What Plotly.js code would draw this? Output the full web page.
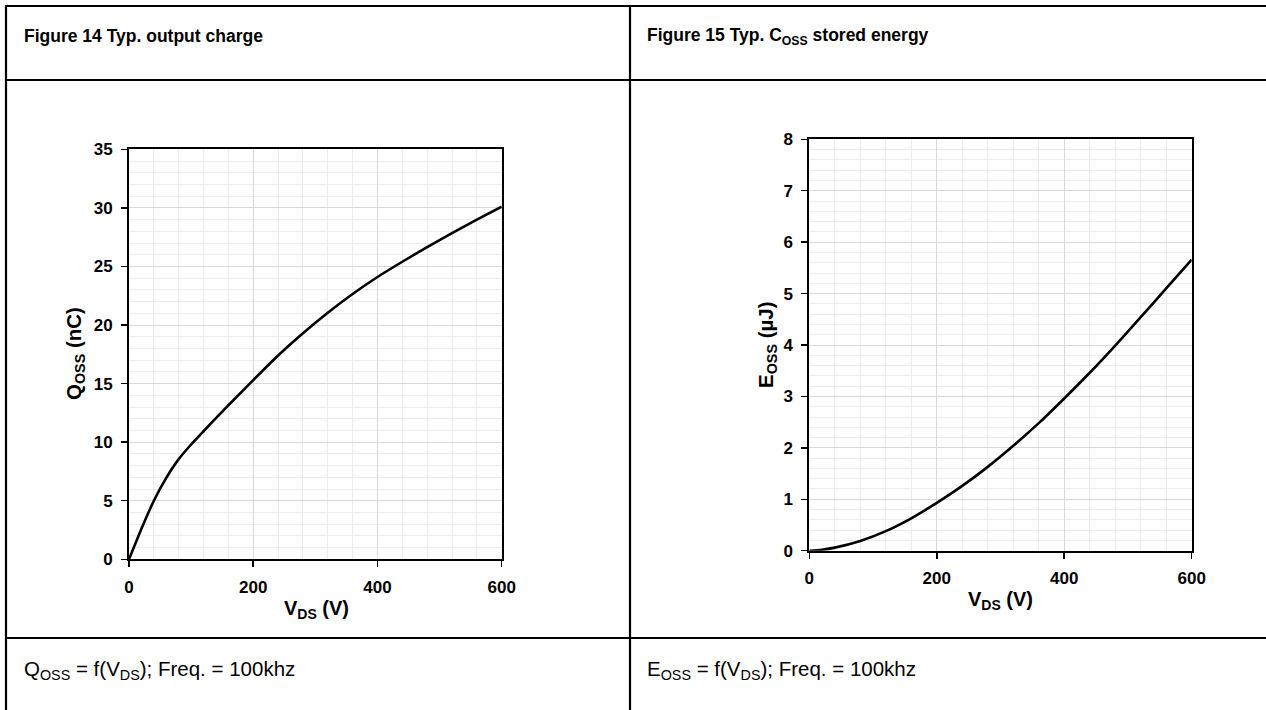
<!DOCTYPE html>
<html>
<head>
<meta charset="utf-8">
<script src="https://cdn.plot.ly/plotly-3.0.1.min.js"></script>
<style>
  html, body { margin: 0; padding: 0; background: #ffffff; }
  #chart { width: 1266px; height: 710px; }
</style>
</head>
<body>
<div id="chart"></div>
<script>
// ---- Data ----
const vdsQ = [0, 20, 40, 60, 80, 100, 120, 140, 160, 200, 240, 280, 320, 360, 400, 440, 480, 520, 560, 600];
const qoss = [0, 2.6, 5.0, 6.95, 8.55, 9.8, 10.93, 12.05, 13.15, 15.3, 17.4, 19.3, 21.05, 22.65, 24.1, 25.4, 26.65, 27.85, 29.0, 30.1];

const vdsE = [0, 20, 40, 80, 120, 160, 200, 240, 280, 320, 360, 400, 440, 480, 520, 560, 600];
const eoss = [0, 0.02, 0.06, 0.19, 0.38, 0.63, 0.93, 1.26, 1.63, 2.04, 2.48, 2.96, 3.46, 3.99, 4.54, 5.10, 5.66];

const xTickVals = [0, 200, 400, 600];
const qTickVals = [0, 5, 10, 15, 20, 25, 30, 35];
const eTickVals = [0, 1, 2, 3, 4, 5, 6, 7, 8];

const headerLeft = "<b>Figure 14 Typ. output charge</b>";
const headerRight = "<b>Figure 15 Typ. C<sub>OSS</sub> stored energy</b>";
const footerLeft = "Q<sub>OSS</sub> = f(V<sub>DS</sub>); Freq. = 100khz";
const footerRight = "E<sub>OSS</sub> = f(V<sub>DS</sub>); Freq. = 100khz";
const xTitle = "<b>V<sub>DS</sub> (V)</b>";
const qTitle = "<b>Q<sub>OSS</sub> (nC)</b>";
const eTitle = "<b>E<sub>OSS</sub> (µJ)</b>";

// ---- Layout helpers (pixel -> paper) ----
const W = 1266, H = 710;
const px = x => x / W;
const py = y => 1 - y / H;
const FONT = "Liberation Sans, Arial, Helvetica, sans-serif";

function axisBase(extra) {
  return Object.assign({
    showline: true, mirror: true, linecolor: "#000000", linewidth: 2,
    ticks: "outside", ticklen: 6, tickwidth: 1.5, tickcolor: "#000000",
    showgrid: true, gridcolor: "#d9d9d9", gridwidth: 1,
    zeroline: false, fixedrange: true,
    tickfont: { family: FONT, size: 17, color: "#000000", weight: "bold" },
    ticklabelstandoff: 5
  }, extra);
}

const traces = [
  { x: vdsQ, y: qoss, xaxis: "x", yaxis: "y", type: "scatter", mode: "lines",
    line: { color: "#000000", width: 2.6, shape: "spline", smoothing: 0.4 },
    hoverinfo: "skip", showlegend: false },
  { x: vdsE, y: eoss, xaxis: "x2", yaxis: "y2", type: "scatter", mode: "lines",
    line: { color: "#000000", width: 2.6, shape: "spline", smoothing: 0.7 },
    hoverinfo: "skip", showlegend: false }
];

const lineStyle = { color: "#000000", width: 2.2 };
const shapes = [
  { type: "line", xref: "paper", yref: "paper", x0: px(6), x1: px(1266), y0: py(6), y1: py(6), line: lineStyle },
  { type: "line", xref: "paper", yref: "paper", x0: px(6), x1: px(1266), y0: py(80), y1: py(80), line: lineStyle },
  { type: "line", xref: "paper", yref: "paper", x0: px(6), x1: px(1266), y0: py(638), y1: py(638), line: lineStyle },
  { type: "line", xref: "paper", yref: "paper", x0: px(6), x1: px(6), y0: py(5), y1: py(710), line: lineStyle },
  { type: "line", xref: "paper", yref: "paper", x0: px(630), x1: px(630), y0: py(5), y1: py(710), line: lineStyle }
];

function ann(text, x, y, size, opts) {
  return Object.assign({ text: text, xref: "paper", yref: "paper", x: px(x), y: py(y),
    showarrow: false, xanchor: "center", yanchor: "middle",
    font: { family: FONT, size: size, color: "#000000" } }, opts || {});
}

const annotations = [
  ann(headerLeft, 22, 36, 17.5, { xanchor: "left" }),
  ann(headerRight, 645, 36, 17.5, { xanchor: "left" }),
  ann(footerLeft, 22, 670, 20.5, { xanchor: "left" }),
  ann(footerRight, 645, 670, 20.5, { xanchor: "left" }),
  ann(xTitle, 316, 609, 20),
  ann(xTitle, 1000, 600, 20),
  ann(qTitle, 75, 354, 20.5, { textangle: -90 }),
  ann(eTitle, 767, 345, 20.5, { textangle: -90 })
];

const minorX = { dtick: 40, showgrid: true, gridcolor: "#ececec", gridwidth: 1, ticks: "" };

const layout = {
  width: W, height: H, autosize: false,
  margin: { l: 0, r: 0, t: 0, b: 0, pad: 0 },
  paper_bgcolor: "#ffffff", plot_bgcolor: "#ffffff",
  showlegend: false,
  xaxis: axisBase({ domain: [px(129), px(501.7)], range: [0, 600], tickvals: xTickVals, anchor: "y", minor: minorX }),
  yaxis: axisBase({ domain: [py(559.3), py(149.3)], range: [0, 35], tickvals: qTickVals, anchor: "x",
    minor: { dtick: 1, showgrid: true, gridcolor: "#ececec", gridwidth: 1, ticks: "" } }),
  xaxis2: axisBase({ domain: [px(809.3), px(1191.7)], range: [0, 600], tickvals: xTickVals, anchor: "y2", minor: minorX }),
  yaxis2: axisBase({ domain: [py(550.7), py(139.3)], range: [0, 8], tickvals: eTickVals, anchor: "x2",
    minor: { dtick: 0.2, showgrid: true, gridcolor: "#ececec", gridwidth: 1, ticks: "" } }),
  shapes: shapes,
  annotations: annotations
};

Plotly.newPlot("chart", traces, layout, { displayModeBar: false, staticPlot: true });
</script>
</body>
</html>
